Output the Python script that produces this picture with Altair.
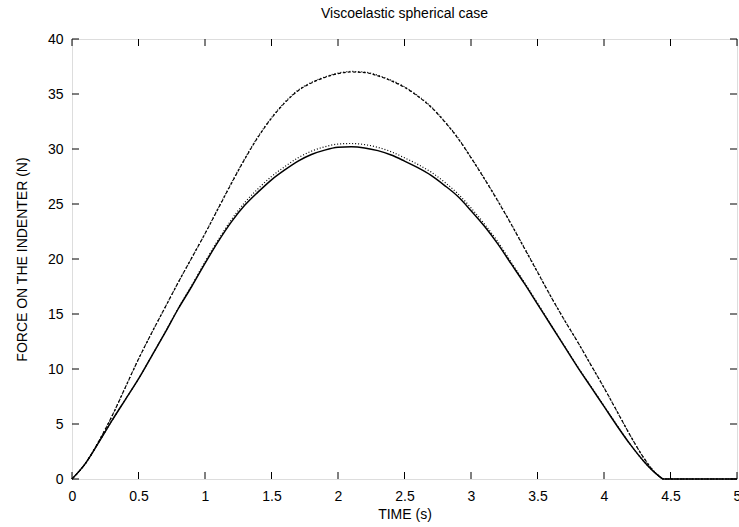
import altair as alt
import pandas as pd

# time (s)
t = [0, 0.1, 0.2, 0.3, 0.4, 0.5, 0.6, 0.7, 0.8, 0.9, 1.0, 1.1, 1.2, 1.3, 1.4, 1.5,
     1.6, 1.7, 1.8, 1.9, 2.0, 2.1, 2.2, 2.3, 2.4, 2.5, 2.6, 2.7, 2.8, 2.9, 3.0, 3.1,
     3.2, 3.3, 3.4, 3.5, 3.6, 3.7, 3.8, 3.9, 4.0, 4.1, 4.2, 4.3, 4.4, 4.45, 4.5, 5.0]

# lower curves
solid_low = [0, 1.4, 3.3, 5.3, 7.2, 9.1, 11.2, 13.3, 15.5, 17.5, 19.6, 21.6, 23.4, 24.9,
             26.1, 27.2, 28.1, 28.9, 29.5, 29.9, 30.15, 30.2, 30.1, 29.85, 29.45, 28.9,
             28.3, 27.6, 26.7, 25.7, 24.4, 23.0, 21.4, 19.6, 17.8, 15.9, 14.0, 12.1, 10.2,
             8.4, 6.6, 4.8, 3.1, 1.6, 0.4, 0, 0, 0]
dotted_low = [0, 1.4, 3.3, 5.3, 7.2, 9.1, 11.2, 13.35, 15.55, 17.6, 19.75, 21.75, 23.6,
              25.15, 26.4, 27.5, 28.4, 29.2, 29.8, 30.2, 30.45, 30.5, 30.4, 30.15, 29.75,
              29.2, 28.6, 27.9, 27.0, 25.95, 24.65, 23.2, 21.6, 19.75, 17.9, 16.0, 14.05,
              12.15, 10.25, 8.45, 6.65, 4.85, 3.1, 1.6, 0.4, 0, 0, 0]

# upper curves
dashed_up = [0, 1.4, 3.4, 5.7, 8.3, 10.9, 13.3, 15.6, 17.9, 20.1, 22.3, 24.6, 26.9, 29.1,
             31.1, 32.8, 34.2, 35.3, 36.0, 36.5, 36.85, 37.0, 36.95, 36.65, 36.2, 35.6,
             34.8, 33.8, 32.5, 31.0, 29.2, 27.3, 25.3, 23.2, 21.0, 18.8, 16.6, 14.5, 12.5,
             10.4, 8.3, 6.1, 3.9, 1.9, 0.4, 0, 0, 0]
dotted_up = [0, 1.4, 3.4, 5.7, 8.3, 10.9, 13.3, 15.6, 17.9, 20.1, 22.3, 24.65, 26.95, 29.15,
             31.15, 32.85, 34.25, 35.35, 36.05, 36.55, 36.9, 37.05, 37.0, 36.7, 36.25, 35.65,
             34.85, 33.85, 32.55, 31.05, 29.25, 27.35, 25.35, 23.25, 21.05, 18.85, 16.6,
             14.5, 12.5, 10.4, 8.3, 6.1, 3.9, 1.9, 0.4, 0, 0, 0]

x_ticks = [0, 0.5, 1, 1.5, 2, 2.5, 3, 3.5, 4, 4.5, 5]
y_ticks = [0, 5, 10, 15, 20, 25, 30, 35, 40]

W, H = 665, 440
FONT = "Liberation Sans"
FS = 14

rows = []
for name, vals in [("solid_low", solid_low), ("dotted_low", dotted_low),
                   ("dashed_up", dashed_up), ("dotted_up", dotted_up)]:
    for ti, v in zip(t, vals):
        rows.append({"t": ti, "F": v, "s": name})
df = pd.DataFrame(rows)

xs = alt.Scale(domain=[0, 5], nice=False, zero=False)
ys = alt.Scale(domain=[0, 40], nice=False, zero=False)

x_axis = alt.Axis(values=x_ticks, format="~g", ticks=False, domain=False, grid=False,
                  labelFlush=False, labelOverlap=False, labelPadding=10,
                  labelFont=FONT, labelFontSize=FS, labelColor="#000",
                  titleFont=FONT, titleFontSize=FS, titleFontWeight="normal",
                  titleColor="#000", titlePadding=4)
y_axis = alt.Axis(values=y_ticks, format="~g", ticks=False, domain=False, grid=False,
                  labelOverlap=False, labelPadding=9,
                  labelFont=FONT, labelFontSize=FS, labelColor="#000",
                  titleFont=FONT, titleFontSize=FS, titleFontWeight="normal",
                  titleColor="#000", titlePadding=18)
X_TITLE = "TIME (s)"
Y_TITLE = "FORCE ON THE INDENTER (N)"

x_enc = alt.X("t:Q", scale=xs, title=X_TITLE, axis=x_axis)
y_enc = alt.Y("F:Q", scale=ys, title=Y_TITLE, axis=y_axis)

base = alt.Chart(df)

def line(name, width, dash=None):
    kw = dict(color="black", strokeWidth=width, interpolate="monotone")
    if dash is not None:
        kw["strokeDash"] = dash
    return base.transform_filter(alt.datum.s == name).mark_line(**kw).encode(x=x_enc, y=y_enc)

l1 = line("solid_low", 1.5)
l2 = line("dotted_low", 1.2, [1, 2])
l3 = line("dashed_up", 1.2, [3, 2])
l4 = line("dotted_up", 1.2, [1, 2])

xt = pd.DataFrame({"v": x_ticks})
yt = pd.DataFrame({"v": y_ticks})
xa = alt.X("v:Q", scale=xs, title=X_TITLE, axis=x_axis)
ya = alt.Y("v:Q", scale=ys, title=Y_TITLE, axis=y_axis)

tick_b = alt.Chart(xt).mark_rule(color="black", strokeWidth=1).encode(
    x=xa, y=alt.value(H), y2=alt.value(H - 7))
tick_t = alt.Chart(xt).mark_rule(color="black", strokeWidth=1).encode(
    x=xa, y=alt.value(0), y2=alt.value(7))
tick_l = alt.Chart(yt).mark_rule(color="black", strokeWidth=1).encode(
    y=ya, x=alt.value(0), x2=alt.value(7))
tick_r = alt.Chart(yt).mark_rule(color="black", strokeWidth=1).encode(
    y=ya, x=alt.value(W), x2=alt.value(W - 7))

chart = alt.layer(l1, l2, l3, l4, tick_b, tick_t, tick_l, tick_r).properties(
    width=W, height=H,
    title=alt.TitleParams("Viscoelastic spherical case", font=FONT, fontSize=FS,
                          fontWeight="normal", color="#000", anchor="middle", offset=11),
    autosize="none",
    padding={"left": 72, "top": 39, "right": 2, "bottom": 48},
).configure_view(stroke="black", strokeWidth=1).configure(background="white")

chart.save("out.html", embed_options={"renderer": "svg", "actions": False})
